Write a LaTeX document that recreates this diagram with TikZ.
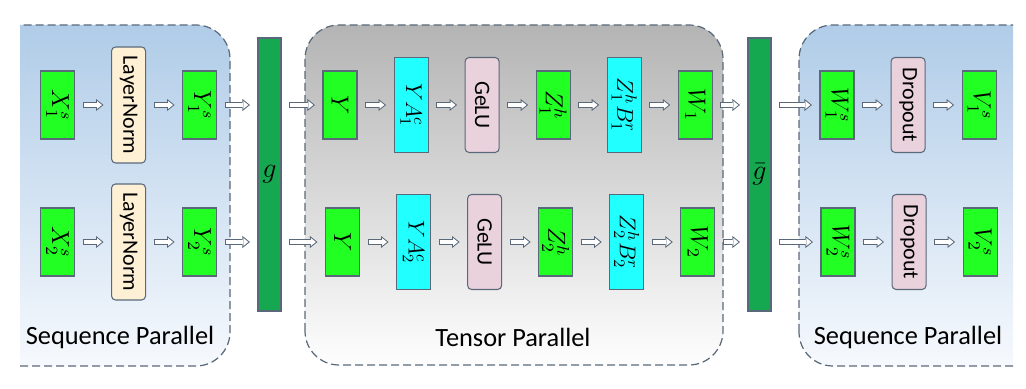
\RequirePackage{fix-cm}
\documentclass[tikz,border=0pt]{standalone}
\usepackage{fontspec}
\setmainfont{Carlito}
\usepackage{graphicx}
\usepackage{tikz}
\usetikzlibrary{arrows.meta,positioning}
\definecolor{BoxGreen}{RGB}{34,255,34}
\definecolor{BoxCyan}{RGB}{34,255,255}
\definecolor{NormCream}{RGB}{253,240,212}
\definecolor{ActPink}{RGB}{233,210,220}
\definecolor{BarGreen}{RGB}{22,168,80}
\definecolor{EdgeGray}{RGB}{90,105,122}
\definecolor{SeqTop}{RGB}{176,204,232}
\definecolor{SeqBottom}{RGB}{246,249,253}
\definecolor{TenTop}{RGB}{180,180,180}
\definecolor{TenBottom}{RGB}{254,254,254}
\newcommand{\vtext}[1]{\rotatebox{-90}{#1}}

\begin{document}
\begin{tikzpicture}[x=0.2mm,y=0.2mm,node distance=7.2mm,font=\fontsize{12.5}{14}\selectfont,
blk/.style={draw=EdgeGray,line width=0.6pt,inner sep=0pt,minimum width=6.8mm},
vec/.style={blk,fill=BoxGreen,minimum height=13.6mm,font=\fontsize{14}{16}\selectfont},
mat/.style={blk,fill=BoxCyan,minimum height=19mm,font=\fontsize{13}{15}\selectfont},
op/.style={blk,rounded corners=0.8mm,fill=ActPink,minimum height=19mm},
norm/.style={blk,rounded corners=0.8mm,fill=NormCream,minimum height=23.2mm},
bar/.style={draw=EdgeGray,line width=0.6pt,fill=BarGreen,inner sep=0pt,minimum width=4.6mm,minimum height=54.6mm,font=\fontsize{16}{18}\selectfont},
panel/.style={draw=EdgeGray,line width=0.7pt,dash pattern=on 1.6mm off 0.8mm,rounded corners=6.8mm},
seqpanel/.style={panel,top color=SeqTop,bottom color=SeqBottom},
tenpanel/.style={panel,top color=TenTop,bottom color=TenBottom},
tag/.style={font=\fontsize{15}{17}\selectfont},
flow/.style={draw=EdgeGray,line width=1.1mm,-{Triangle[length=1.5mm,width=2.4mm,line width=0pt]},shorten <=1.5mm,shorten >=1.5mm,
  postaction={draw=white,line width=0.7mm,-{Triangle[length=0.98mm,width=1.57mm,line width=0pt]},shorten <=1.7mm,shorten >=1.82mm}}]
\useasboundingbox (0,0) rectangle (1026,389);
\begin{scope}
\clip (20,0) rectangle (1013,389);
\path[seqpanel] (-20,23) rectangle (230,364);
\path[seqpanel] (799,23) rectangle (1060,364);
\end{scope}
\path[tenpanel] (305,24) rectangle (723,364);
\node[tag] (seqleft) at (120,52) {Sequence Parallel};
\node[tag] (tensor) at (513,52) {Tensor Parallel};
\node[tag] (seqright) at (908,52) {Sequence Parallel};

\node[vec] (x1) at (57.5,284) {\vtext{$X_1^s$}};\node[norm,right=of x1] (ln1) {\vtext{LayerNorm}};\node[vec,right=of ln1] (y1) {\vtext{$Y_1^s$}};
\node[vec] (x2) at (57.5,147) {\vtext{$X_2^s$}};\node[norm,right=of x2] (ln2) {\vtext{LayerNorm}};\node[vec,right=of ln2] (y2) {\vtext{$Y_2^s$}};
\node[bar] (g) at (269.5,214.5) {$g$};

\node[vec] (yin1) at (340,284) {\vtext{$Y$}};\node[mat,right=of yin1] (ya1) {\vtext{$YA_1^c$}};\node[op,right=of ya1] (gelu1) {\vtext{GeLU}};
\node[vec,right=of gelu1] (z1) {\vtext{$Z_1^h$}};\node[mat,right=of z1] (zb1) {\vtext{$Z_1^hB_1^r$}};\node[vec,right=of zb1] (w1) {\vtext{$W_1$}};
\node[vec] (yin2) at (342.5,147) {\vtext{$Y$}};\node[mat,right=of yin2] (ya2) {\vtext{$YA_2^c$}};\node[op,right=of ya2] (gelu2) {\vtext{GeLU}};
\node[vec,right=of gelu2] (z2) {\vtext{$Z_2^h$}};\node[mat,right=of z2] (zb2) {\vtext{$Z_2^hB_2^r$}};\node[vec,right=of zb2] (w2) {\vtext{$W_2$}};
\node[bar] (gb) at (759.5,214.5) {$\bar{g}$};

\node[vec] (ws1) at (837,284) {\vtext{$W_1^s$}};\node[op,right=of ws1] (drop1) {\vtext{Dropout}};\node[vec,right=of drop1] (vs1) {\vtext{$V_1^s$}};
\node[vec] (ws2) at (838,147) {\vtext{$W_2^s$}};\node[op,right=of ws2] (drop2) {\vtext{Dropout}};\node[vec,right=of drop2] (vs2) {\vtext{$V_2^s$}};

\draw[flow] (x1) -- (ln1);\draw[flow] (ln1) -- (y1);\draw[flow] (y1) -- (y1 -| g.west);
\draw[flow] (x2) -- (ln2);\draw[flow] (ln2) -- (y2);\draw[flow] (y2) -- (y2 -| g.west);
\draw[flow] (yin1 -| g.east) -- (yin1);\draw[flow] (yin1) -- (ya1);\draw[flow] (ya1) -- (gelu1);\draw[flow] (gelu1) -- (z1);\draw[flow] (z1) -- (zb1);\draw[flow] (zb1) -- (w1);\draw[flow] (w1) -- (w1 -| gb.west);
\draw[flow] (yin2 -| g.east) -- (yin2);\draw[flow] (yin2) -- (ya2);\draw[flow] (ya2) -- (gelu2);\draw[flow] (gelu2) -- (z2);\draw[flow] (z2) -- (zb2);\draw[flow] (zb2) -- (w2);\draw[flow] (w2) -- (w2 -| gb.west);
\draw[flow] (ws1 -| gb.east) -- (ws1);\draw[flow] (ws1) -- (drop1);\draw[flow] (drop1) -- (vs1);
\draw[flow] (ws2 -| gb.east) -- (ws2);\draw[flow] (ws2) -- (drop2);\draw[flow] (drop2) -- (vs2);
\end{tikzpicture}
\end{document}
